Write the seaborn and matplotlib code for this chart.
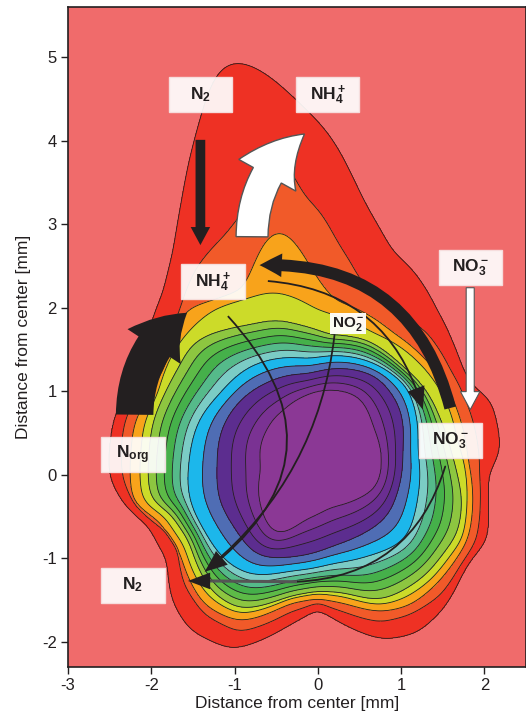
import numpy as np
import matplotlib
matplotlib.use("Agg")
import matplotlib.pyplot as plt
import seaborn as sns
from matplotlib.patches import FancyArrowPatch, Rectangle

# ---------------- data (mm) ----------------
CENTER = (-0.1, 0.3)

# contour boundary outlines (key levels), outer -> inner
b05_x = [-1.24,-1.02,-0.61,-0.25,0.18,0.35,0.56,0.87,1.14,1.43,1.62,1.74,1.86,2.07,2.15,2.19,2.04,2.04,2.03,1.83,1.74,1.50,1.19,0.78,0.32,0.00,-0.34,-1.02,-1.54,-1.75,-1.80,-2.02,-2.34,-2.50,-2.44,-2.20,-2.02,-1.84,-1.72,-1.62,-1.51,-1.36]
b05_y = [4.90,5.02,4.81,4.46,4.04,3.68,3.23,2.69,2.45,1.97,1.58,1.26,1.05,0.90,0.62,0.30,0.00,-0.30,-0.78,-1.02,-1.17,-1.61,-1.89,-1.97,-1.79,-1.59,-1.79,-2.09,-1.85,-1.50,-1.02,-0.62,-0.33,-0.02,0.69,1.14,1.73,2.21,2.69,3.29,3.89,4.37]

b15_x = [-1.09,-0.82,-0.60,-0.49,-0.38,-0.22,-0.01,0.23,0.50,0.90,1.31,1.59,1.77,1.91,1.94,1.95,1.90,1.71,1.47,1.11,0.75,0.32,0.00,-0.34,-0.94,-1.36,-1.60,-1.68,-1.84,-2.20,-2.34,-2.36,-2.32,-2.14,-1.90,-1.68,-1.62,-1.45]
b15_y = [2.89,3.23,3.77,4.03,3.77,3.35,3.21,2.78,2.33,1.97,1.70,1.26,0.90,0.42,0.00,-0.30,-0.78,-1.08,-1.44,-1.67,-1.76,-1.64,-1.52,-1.64,-1.88,-1.67,-1.32,-0.90,-0.66,-0.36,-0.04,0.30,0.62,1.02,1.50,1.89,2.09,2.49]

b25_x = [-0.49,-0.34,-0.18,-0.01,0.18,0.50,0.90,1.26,1.53,1.71,1.80,1.86,1.80,1.65,1.41,1.11,0.75,0.32,0.00,-0.34,-0.94,-1.36,-1.54,-1.66,-1.90,-2.22,-2.24,-2.20,-2.02,-1.84,-1.72,-1.60,-1.24,-0.88,-0.76,-0.64]
b25_y = [2.97,2.93,2.61,2.33,2.09,1.97,1.70,1.41,1.08,0.66,0.18,-0.30,-0.78,-1.02,-1.32,-1.56,-1.64,-1.53,-1.47,-1.53,-1.76,-1.56,-1.26,-0.90,-0.54,-0.33,0.30,0.62,0.96,1.26,1.61,1.97,2.09,2.21,2.51,2.81]

b35_x = [-0.54,-0.30,-0.01,0.35,0.66,0.99,1.29,1.53,1.67,1.77,1.79,1.73,1.59,1.35,1.05,0.75,0.32,0.00,-0.34,-0.94,-1.30,-1.48,-1.60,-1.84,-2.10,-2.12,-2.08,-1.92,-1.78,-1.66,-1.50,-1.26,-0.90]
b35_y = [2.19,2.13,1.97,1.85,1.70,1.53,1.26,0.90,0.42,0.06,-0.30,-0.78,-0.96,-1.26,-1.47,-1.56,-1.45,-1.41,-1.47,-1.67,-1.47,-1.20,-0.84,-0.48,-0.33,0.30,0.62,0.96,1.38,1.58,1.77,1.97,2.09]

b45_x = [-0.82,-0.49,-0.22,0.14,0.59,0.99,1.29,1.47,1.59,1.67,1.73,1.67,1.53,1.29,0.99,0.75,0.32,0.00,-0.34,-0.94,-1.27,-1.42,-1.54,-1.78,-2.00,-2.02,-1.98,-1.84,-1.68,-1.51,-1.33,-1.12]
b45_y = [1.79,1.85,1.79,1.67,1.61,1.32,1.02,0.66,0.30,0.00,-0.30,-0.72,-0.90,-1.20,-1.40,-1.50,-1.40,-1.38,-1.44,-1.61,-1.40,-1.14,-0.78,-0.42,-0.33,0.30,0.62,0.96,1.26,1.56,1.67,1.73]

b95_x = [-0.82,-0.10,0.66,1.07,1.19,1.19,1.05,0.62,0.18,-0.34,-0.82,-1.12,-1.36,-1.54,-1.54,-1.42,-1.18]
b95_y = [1.29,1.38,1.34,1.05,0.30,-0.30,-0.78,-0.96,-1.05,-1.14,-1.20,-1.02,-0.66,-0.30,0.18,0.66,0.96]

b115_x = [-1.14,-0.61,-0.10,0.71,0.99,1.01,0.96,0.83,0.50,0.18,-0.37,-0.73,-0.97,-1.18,-1.20]
b115_y = [0.57,1.10,1.20,1.17,0.78,0.30,-0.18,-0.50,-0.72,-0.84,-0.98,-0.98,-0.66,-0.30,0.10]

b145_x = [-0.61,-0.40,-0.18,0.50,0.66,0.71,0.44,0.14,-0.22,-0.49,-0.64,-0.67]
b145_y = [0.54,0.78,0.93,0.93,0.57,-0.14,-0.30,-0.38,-0.54,-0.78,-0.50,0.06]

key_levels = [0.5, 1.5, 2.5, 3.5, 4.5, 9.5, 11.5, 14.5]
level_colors = ["#F06B6B", "#EE3124", "#F15A29", "#F8A31B", "#CCDB29", "#8DC640",
                "#5DBB47", "#45B04A", "#55BA8A", "#7BCCC5", "#1CB7EB", "#4F6DB4",
                "#5C2D8F", "#6A2E91", "#7A3293", "#8B3895"]

# labels: (text, x, y)
labels = [(r"$\mathbf{N_2}$", -1.41, 4.55),
          (r"$\mathbf{NH_4^+}$", 0.12, 4.55),
          (r"$\mathbf{NH_4^+}$", -1.26, 2.31),
          (r"$\mathbf{NO_3^-}$", 1.83, 2.48),
          (r"$\mathbf{NO_3^-}$", 1.59, 0.41),
          (r"$\mathbf{N_{org}}$", -2.22, 0.24),
          (r"$\mathbf{N_2}$", -2.22, -1.32)]
small_label = (r"$\mathbf{NO_2^-}$", 0.36, 1.81)

# ---------------- style ----------------
sns.set_theme(style="ticks")
plt.rcParams["font.family"] = ["Liberation Sans", "DejaVu Sans"]
plt.rcParams["mathtext.fontset"] = "custom"
plt.rcParams["mathtext.rm"] = "Liberation Sans"
plt.rcParams["mathtext.bf"] = "Liberation Sans:bold"
plt.rcParams["mathtext.it"] = "Liberation Sans:italic"
plt.rcParams["axes.unicode_minus"] = False
INK = "#231F20"

fig = plt.figure(figsize=(5.26, 7.25), dpi=100)
ax = fig.add_axes([68/526, 58/725, 458/526, 660/725])
xmin, xmax, ymin, ymax = -3.0, 2.5, -2.3, 5.6

# ---------------- field from boundary outlines ----------------
cx, cy = CENTER
X, Y = np.meshgrid(np.linspace(xmin, xmax, 661), np.linspace(ymin, ymax, 949))
TH = np.arctan2(Y - cy, X - cx)
RR = np.hypot(X - cx, Y - cy)

NS = 1440
ths = np.linspace(-np.pi, np.pi, NS, endpoint=False)

def radius_of(bx, by, sigma_deg=3.0):
    bx = np.asarray(bx); by = np.asarray(by)
    th = np.arctan2(by - cy, bx - cx)
    r = np.hypot(bx - cx, by - cy)
    o = np.argsort(th)
    rs = np.interp(ths, th[o], r[o], period=2*np.pi)
    # circular gaussian smoothing
    s = sigma_deg / 360 * NS
    k = np.arange(-int(4*s), int(4*s) + 1)
    w = np.exp(-0.5 * (k / s) ** 2); w /= w.sum()
    ext = np.concatenate([rs[-len(k):], rs, rs[:len(k)]])
    sm = np.convolve(ext, w, mode="same")[len(k):-len(k)]
    return np.interp(TH, ths, sm, period=2*np.pi)

bounds = [(b05_x, b05_y, 2.5), (b15_x, b15_y, 2.0), (b25_x, b25_y, 3.0), (b35_x, b35_y, 3.0),
          (b45_x, b45_y, 3.5), (b95_x, b95_y, 5.0), (b115_x, b115_y, 6.0), (b145_x, b145_y, 7.0)]
radii = [radius_of(*b) for b in bounds]
for i in range(1, len(radii)):
    radii[i] = np.minimum(radii[i], radii[i-1] * 0.99)

Z = 0.5 - (RR - radii[0])
for i in range(len(radii) - 1):
    ro, ri = radii[i], radii[i+1]
    m = (RR < ro) & (RR >= ri)
    frac = (ro - RR) / (ro - ri)
    Z = np.where(m, key_levels[i] + frac * (key_levels[i+1] - key_levels[i]), Z)
Z = np.where(RR < radii[-1], 14.5 + (1 - RR / radii[-1]) * 2, Z)

lv = [-50] + [k + 0.5 for k in range(15)] + [50]
ax.contourf(X, Y, Z, levels=lv, colors=level_colors, zorder=1)
ax.contour(X, Y, Z, levels=[k + 0.5 for k in range(15)], colors=INK,
           linewidths=0.6, zorder=2)

# ---------------- arrows ----------------
def farrow(p0, p1, style, rad, fc, ec, lw=0.0, z=5):
    a = FancyArrowPatch(p0, p1, arrowstyle=style,
                        connectionstyle=f"arc3,rad={rad}", mutation_scale=1,
                        facecolor=fc, edgecolor=ec, linewidth=lw,
                        shrinkA=0, shrinkB=0, zorder=z, joinstyle="miter")
    ax.add_patch(a)

# N2 -> down (black straight)
farrow((-1.41, 4.01), (-1.41, 2.75), "simple,head_length=13,head_width=14,tail_width=7", 0, INK, INK)
# white big curved arrow up (NH4+)
farrow((-0.79, 2.85), (-0.16, 4.08), "simple,head_length=40,head_width=47,tail_width=23", -0.25, "white", "#555555", 1.0)
# black big curved arrow (Norg)
farrow((-2.20, 0.72), (-1.57, 1.94), "simple,head_length=34,head_width=46,tail_width=27", -0.25, INK, INK)
# black thick arrow NO3 -> NH4
farrow((1.59, 0.80), (-0.70, 2.51), "simple,head_length=16,head_width=17,tail_width=8.5", 0.4, INK, INK)
# thin arrows
farrow((-0.60, 2.32), (1.26, 0.78), "simple,head_length=16,head_width=13,tail_width=1.3", -0.35, INK, INK)
farrow((-1.08, 1.90), (-1.36, -1.16), "simple,head_length=16,head_width=13,tail_width=1.3", -0.55, INK, INK)
farrow((0.20, 1.67), (-1.30, -1.10), "-", -0.2, "none", INK, 1.3)
farrow((1.53, 0.10), (-0.25, -1.28), "-", -0.35, "none", INK, 1.3)
ax.plot([-0.25, -1.30], [-1.28, -1.27], color="#555555", lw=2.2, zorder=5, solid_capstyle="butt")
farrow((-1.25, -1.27), (-1.56, -1.27), "simple,head_length=16,head_width=12,tail_width=0.1", 0, INK, INK)
# white straight NO3 down
farrow((1.83, 2.24), (1.83, 0.78), "simple,head_length=13,head_width=14,tail_width=5.8", 0, "white", "#555555", 0.8)

# ---------------- labels ----------------
bw, bh = 0.76, 0.42
for txt, lx, ly in labels:
    ax.add_patch(Rectangle((lx - bw/2, ly - bh/2), bw, bh, facecolor="#FFFFFF",
                           alpha=0.92, edgecolor="#F6E2E2", lw=1.0, zorder=8))
    ax.text(lx, ly, txt, ha="center", va="center", fontsize=12.5, color=INK, zorder=9)
t, lx, ly = small_label
ax.text(lx, ly, t, ha="center", va="center", fontsize=11, color=INK, zorder=9,
        bbox=dict(boxstyle="square,pad=0.12", facecolor="white", edgecolor="none", alpha=0.95))

# ---------------- axes ----------------
ax.set_xlim(xmin, xmax)
ax.set_ylim(ymin, ymax)
ax.set_xticks([-3, -2, -1, 0, 1, 2])
ax.set_yticks([-2, -1, 0, 1, 2, 3, 4, 5])
ax.tick_params(direction="out", length=5, width=1, colors=INK, labelsize=12, pad=3)
for s in ax.spines.values():
    s.set_color(INK); s.set_linewidth(1.2)
ax.set_xlabel("Distance from center [mm]", fontsize=12.5, color=INK, labelpad=2)
ax.set_ylabel("Distance from center [mm]", fontsize=12.5, color=INK, labelpad=8)

fig.savefig("out.png", dpi=100)
